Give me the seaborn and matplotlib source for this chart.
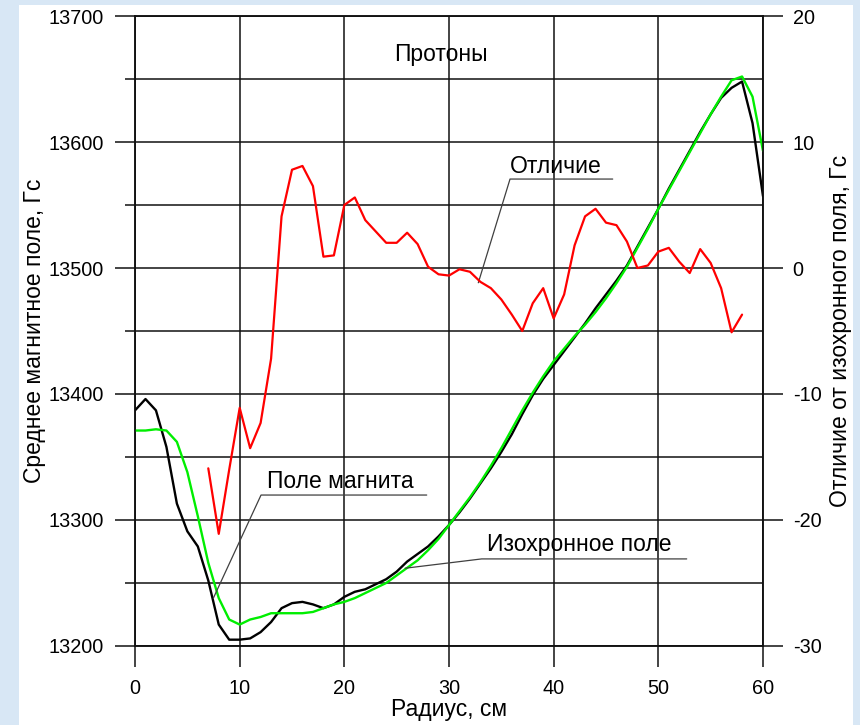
import matplotlib
matplotlib.use("Agg")
import matplotlib.pyplot as plt
from matplotlib.patches import Rectangle
from matplotlib.ticker import MultipleLocator
import pandas as pd
import seaborn as sns

# Радиус, см
radius = list(range(0, 61))

# Поле магнита, Гс
field_magnet = [13387, 13396, 13387, 13358, 13313, 13291, 13279, 13252, 13217, 13205,
                13205, 13206, 13211, 13219, 13230, 13234, 13235, 13233, 13230, 13233,
                13239, 13243, 13245, 13249, 13253, 13259, 13267, 13273, 13279, 13287,
                13296, 13306, 13317, 13329, 13341, 13354, 13368, 13384, 13399, 13412,
                13423, 13434, 13445, 13456, 13468, 13479, 13490, 13502, 13517, 13532,
                13547, 13563, 13578, 13593, 13608, 13622, 13635, 13643, 13648, 13615,
                13557]

# Изохронное поле, Гс
field_iso = [13371, 13371, 13372, 13371, 13362, 13338, 13303, 13266, 13238, 13221,
             13217, 13221, 13223, 13226, 13226, 13226, 13226, 13227, 13230, 13233,
             13235, 13238, 13242, 13246, 13250, 13256, 13262, 13268, 13276, 13285,
             13296, 13307, 13318, 13330, 13343, 13357, 13372, 13387, 13401, 13414,
             13426, 13436, 13446, 13455, 13465, 13476, 13488, 13501, 13516, 13531,
             13547, 13562, 13577, 13592, 13607, 13622, 13636, 13649, 13652, 13636,
             13593]

# Отличие от изохронного поля, Гс
radius_diff = list(range(7, 59))
diff = [-15.9, -21.1, -16.0, -11.1, -14.3, -12.3, -7.2, 4.1, 7.8, 8.1,
        6.5, 0.9, 1.0, 5.0, 5.6, 3.8, 2.9, 2.0, 2.0, 2.8,
        1.9, 0.1, -0.5, -0.6, -0.1, -0.3, -1.1, -1.6, -2.5, -3.7,
        -5.0, -2.8, -1.6, -4.0, -2.1, 1.8, 4.1, 4.7, 3.6, 3.4,
        2.1, 0.0, 0.2, 1.3, 1.6, 0.5, -0.4, 1.5, 0.4, -1.6,
        -5.1, -3.7]

x_ticks = [0, 10, 20, 30, 40, 50, 60]
field_ticks = [13200, 13300, 13400, 13500, 13600, 13700]
field_tick_labels = ["13200", "13300", "13400", "13500", "13600", "13700"]
diff_ticks = [-30, -20, -10, 0, 10, 20]
diff_tick_labels = ["-30", "-20", "-10", "0", "10", "20"]

df_main = pd.DataFrame({"r": radius, "magnet": field_magnet, "iso": field_iso})
df_diff = pd.DataFrame({"r": radius_diff, "diff": diff})

sns.set_style("white")
plt.rcParams["font.family"] = ["Liberation Sans", "DejaVu Sans"]
plt.rcParams["text.color"] = "black"
plt.rcParams["axes.labelcolor"] = "black"
plt.rcParams["xtick.color"] = "black"
plt.rcParams["ytick.color"] = "black"

fig = plt.figure(figsize=(8.6, 7.25), dpi=100, facecolor="#d8e7f5")
fig.patches.append(Rectangle((19 / 860, 0), (853 - 19) / 860, 1 - 5 / 725,
                             transform=fig.transFigure, facecolor="white",
                             edgecolor="none", zorder=-1))

ax = fig.add_axes([0.157, 0.109, 0.7302, 0.8689])
ax2 = ax.twinx()

line_col = "#111111"
tick_fs = 14.3
text_fs = 16.5

sns.lineplot(data=df_main, x="r", y="magnet", ax=ax, color="black", lw=1.7, zorder=3)
sns.lineplot(data=df_main, x="r", y="iso", ax=ax, color="#00ee00", lw=1.7, zorder=4)
sns.lineplot(data=df_diff, x="r", y="diff", ax=ax2, color="#ff0000", lw=1.6, zorder=3)

ax.set_xlim(0, 60)
ax.set_ylim(13200, 13700)
ax2.set_ylim(-30, 20)

ax.set_xticks(x_ticks)
ax.set_yticks(field_ticks)
ax.set_yticklabels(field_tick_labels)
ax.yaxis.set_minor_locator(MultipleLocator(50))
ax2.set_yticks(diff_ticks)
ax2.set_yticklabels(diff_tick_labels)

ax.grid(which="major", axis="both", color=line_col, lw=1.1)
ax.grid(which="minor", axis="y", color=line_col, lw=1.1)
ax.set_axisbelow(True)

ax.tick_params(axis="y", which="major", direction="out", length=14.4, width=1.1,
               color=line_col, pad=8, labelsize=tick_fs, left=True)
ax.tick_params(axis="y", which="minor", direction="out", length=7.2, width=1.1,
               color=line_col, left=True)
ax.tick_params(axis="x", which="major", direction="out", length=15, width=1.1,
               color=line_col, pad=9, labelsize=tick_fs, bottom=True)
ax2.tick_params(axis="y", which="major", direction="out", length=14.4, width=1.1,
                color=line_col, pad=7, labelsize=tick_fs, right=True)

for a in (ax, ax2):
    for s in a.spines.values():
        s.set_color(line_col)
        s.set_linewidth(1.1)

ax.set_xlabel("Радиус, см", fontsize=text_fs)
ax.set_ylabel("Среднее магнитное поле, Гс", fontsize=text_fs)
ax2.set_ylabel("Отличие от изохронного поля, Гс", fontsize=text_fs)
ax.xaxis.set_label_coords(0.5, -0.083)
ax.yaxis.set_label_coords(-0.142, 0.5)
ax2.yaxis.set_label_coords(1.105, 0.5)

# подписи и выноски
ax.text(24.8, 13664.3, "Протоны", fontsize=text_fs, ha="left", va="baseline")

ax.text(35.83, 13575.1, "Отличие", fontsize=text_fs, ha="left", va="baseline", zorder=6)
ax.plot([45.64, 35.83, 32.8], [13570.6, 13570.6, 13488.3], color="#404040", lw=0.9, zorder=6)

ax.text(12.58, 13325.2, "Поле магнита", fontsize=text_fs, ha="left", va="baseline", zorder=6)
ax.plot([27.87, 12.04, 7.48], [13319.8, 13319.8, 13237.9], color="#404040", lw=0.9, zorder=6)

ax.text(33.6, 13275.6, "Изохронное поле", fontsize=text_fs, ha="left", va="baseline", zorder=6)
ax.plot([52.71, 33.12, 25.8], [13269.1, 13269.1, 13261.7], color="#404040", lw=0.9, zorder=6)

fig.savefig("out.png", dpi=100, facecolor=fig.get_facecolor())
